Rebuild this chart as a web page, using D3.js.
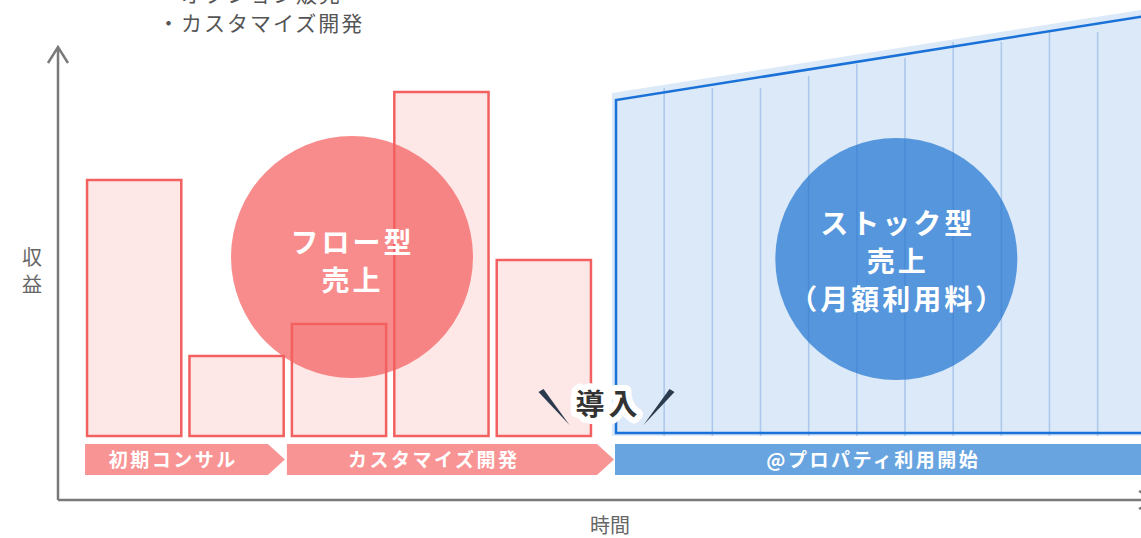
<!DOCTYPE html>
<html>
  <head>
    <meta charset="utf-8">
    <title>フロー型売上とストック型売上</title>
    <style>
    html, body { margin: 0; padding: 0; background: #fff; }
    svg { display: block; font-family: "Noto Sans CJK JP", "Noto Sans", sans-serif; }
    .axis-line { stroke: #7a7a7a; stroke-width: 2.5; fill: none; }
    .axis-label { fill: #666; font-size: 20px; }
    .note { fill: #555; font-size: 21px; letter-spacing: 2px; }
    .bar-fill { fill: #f45c5c; fill-opacity: 0.15; }
    .bar-line { fill: none; stroke: #f26060; stroke-width: 2.5; }
    .phase text { fill: #fff; font-size: 19px; font-weight: bold; letter-spacing: 2.5px; }
    .bubble text { fill: #fff; font-size: 28px; font-weight: bold; letter-spacing: 3px; }
    </style>
    <script src="https://cdn.jsdelivr.net/npm/d3@7"></script>
  </head>
  <body>
    <svg></svg>
    <script>
      // flow revenue bars (height per project step)
      var flowSteps = ["s1", "s2", "s3", "s4", "s5"];
      var flowValues = [64, 20, 28, 86, 44];
      // stock revenue: monthly dividers and the growing top edge
      var stockMonths = [1, 2, 3, 4, 5, 6, 7, 8, 9, 10];
      var stockValues = [87, 87, 87, 90, 93, 94.5, 98.5, 98.5, 101, 101];
      var stockEdge = [84, 105];
      var phaseLabels = ["初期コンサル", "カスタマイズ開発", "@プロパティ利用開始"];
      var notes = ["・オプション販売", "・カスタマイズ開発"];

      var width = 1141, height = 538;
      var svg = d3.select("svg").attr("width", width).attr("height", height);

      var y = d3.scaleLinear().domain([0, 100]).range([436, 36]);
      var xFlow = d3.scaleBand().domain(flowSteps).range([85, 593])
          .paddingInner(0.08).paddingOuter(0.02);
      var xStock = d3.scaleLinear().domain([0, 10.9]).range([616, 1141]);

      // notes at the top (first one is cut by the frame)
      svg.selectAll("text.note")
        .data(notes)
        .enter().append("text")
          .attr("class", "note")
          .attr("x", 158)
          .attr("y", function(d, i) { return 2 + i * 29; })
          .text(function(d) { return d; });

      // --- stock area ---
      var stockG = svg.append("g");
      var x0 = xStock(0), x1 = xStock(10.9);
      stockG.append("path")
          .attr("d", "M" + (x0 - 4) + "," + (y(0)) + "L" + (x0 - 4) + "," + (y(stockEdge[0]) - 7) +
                     "L" + x1 + "," + (y(stockEdge[1]) - 6) + "L" + x1 + "," + y(0) + "Z")
          .attr("fill", "#dbe9f8");

      stockG.append("circle")
          .attr("cx", xStock(5.82)).attr("cy", 259).attr("r", 121)
          .attr("fill", "#4a8fd9").attr("fill-opacity", 0.93);

      stockG.selectAll("line.month")
        .data(stockMonths)
        .enter().append("line")
          .attr("class", "month")
          .attr("x1", function(d) { return xStock(d); })
          .attr("x2", function(d) { return xStock(d); })
          .attr("y1", y(0))
          .attr("y2", function(d, i) { return y(stockValues[i]); })
          .attr("stroke", "#2f6fc8").attr("stroke-opacity", 0.28).attr("stroke-width", 1.5);

      stockG.append("path")
          .attr("d", "M" + (x1 + 5) + "," + (y(0) - 3) + "L" + x0 + "," + (y(0) - 3) +
                     "L" + x0 + "," + y(stockEdge[0]) + "L" + (x1 + 5) + "," + y(stockEdge[1]))
          .attr("fill", "none").attr("stroke", "#1a72d9").attr("stroke-width", 2.5);

      // --- flow bars ---
      var flowG = svg.append("g");
      flowG.append("circle")
          .attr("cx", 352).attr("cy", 257).attr("r", 121)
          .attr("fill", "#f88b8b");

      flowG.selectAll("rect.bar-fill")
        .data(flowValues)
        .enter().append("rect")
          .attr("class", "bar-fill")
          .attr("x", function(d, i) { return xFlow(flowSteps[i]); })
          .attr("y", function(d) { return y(d); })
          .attr("width", xFlow.bandwidth())
          .attr("height", function(d) { return y(0) - y(d); });

      flowG.selectAll("rect.bar-line")
        .data(flowValues)
        .enter().append("rect")
          .attr("class", "bar-line")
          .attr("x", function(d, i) { return xFlow(flowSteps[i]); })
          .attr("y", function(d) { return y(d); })
          .attr("width", xFlow.bandwidth())
          .attr("height", function(d) { return y(0) - y(d); });

      // bubble labels
      function bubbleText(cx, cy, lines) {
        var g = svg.append("g").attr("class", "bubble");
        lines.forEach(function(t, i) {
          g.append("text")
            .attr("x", cx + 1.5)
            .attr("y", cy + i * 38)
            .attr("text-anchor", "middle")
            .text(t);
        });
      }
      bubbleText(351, 253, ["フロー型", "売上"]);
      bubbleText(xStock(5.82), 234, ["ストック型", "売上", "（月額利用料）"]);

      // --- phase arrows ---
      var py0 = y(0) + 8, py1 = y(0) + 39, pm = (py0 + py1) / 2;
      var p1s = xFlow(flowSteps[0]) - 2, p1e = xFlow(flowSteps[2]) - 7;
      var p2s = xFlow(flowSteps[2]) - 5, p2e = x0 - 2;
      var phases = [
        {label: phaseLabels[0], pts: [[p1s, py0], [p1e - 17, py0], [p1e, pm], [p1e - 17, py1], [p1s, py1]], fill: "#f99494", shift: -13},
        {label: phaseLabels[1], pts: [[p2s, py0], [p2e - 17, py0], [p2e, pm], [p2e - 17, py1], [p2s, py1]], fill: "#f99494", shift: -18},
        {label: phaseLabels[2], pts: [[x0 - 1, py0], [x1 + 4, py0], [x1 + 4, py1], [x0 - 1, py1]], fill: "#68a4e0", shift: -8}
      ];
      var ph = svg.selectAll("g.phase")
        .data(phases)
        .enter().append("g").attr("class", "phase");
      ph.append("path")
          .attr("d", function(d) { return d3.line()(d.pts) + "Z"; })
          .attr("fill", function(d) { return d.fill; });
      ph.append("text")
          .attr("x", function(d) {
            var xs = d.pts.map(function(p) { return p[0]; });
            return (d3.min(xs) + d3.max(xs)) / 2 + d.shift + 1.25;
          })
          .attr("y", pm + 7)
          .attr("text-anchor", "middle")
          .text(function(d) { return d.label; });

      // --- 導入 marker ---
      var mx = x0 - 9.5, my = 405;
      var markG = svg.append("g");
      markG.append("path")
          .attr("d", "M" + (mx - 68) + "," + (my - 13) + "L" + (mx - 63) + "," + (my - 16) + "L" + (mx - 37) + "," + (my + 20) + "Z")
          .attr("fill", "#2c3a4d");
      markG.append("path")
          .attr("d", "M" + (mx + 68) + "," + (my - 13) + "L" + (mx + 63) + "," + (my - 16) + "L" + (mx + 37) + "," + (my + 20) + "Z")
          .attr("fill", "#2c3a4d");
      [true, false].forEach(function(halo) {
        var t = markG.append("text")
            .attr("x", mx + 2).attr("y", my + 10)
            .attr("text-anchor", "middle")
            .attr("font-size", 29).attr("font-weight", "bold")
            .style("letter-spacing", "4px")
            .attr("fill", halo ? "#fff" : "#333")
            .text("導入");
        if (halo) t.attr("stroke", "#fff").attr("stroke-width", 12).attr("stroke-linejoin", "round");
      });

      // --- axes ---
      var ax = 58, ay = 500;
      svg.append("path").attr("class", "axis-line")
          .attr("d", "M" + ax + "," + ay + "V47M" + (ax - 10) + ",63L" + ax + ",47L" + (ax + 10) + ",63");
      svg.append("path").attr("class", "axis-line")
          .attr("d", "M" + ax + "," + ay + "H1155M1139,491L1155," + ay + "L1139,509");

      svg.append("text").attr("class", "axis-label")
          .attr("x", 32).attr("y", 265).attr("text-anchor", "middle").text("収");
      svg.append("text").attr("class", "axis-label")
          .attr("x", 32).attr("y", 292).attr("text-anchor", "middle").text("益");
      svg.append("text").attr("class", "axis-label")
          .attr("x", 610).attr("y", 533).attr("text-anchor", "middle").text("時間");
    </script>
  </body>
</html>
